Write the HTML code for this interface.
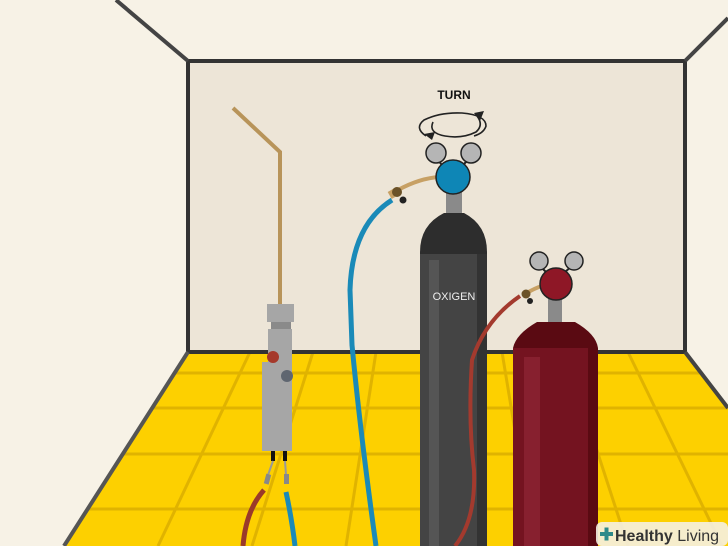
<!DOCTYPE html>
<html><head><meta charset="utf-8"><style>
html,body{margin:0;padding:0;background:#f7f2e6;}
svg{display:block}
</style></head><body>
<svg width="728" height="546" viewBox="0 0 728 546" xmlns="http://www.w3.org/2000/svg">
<defs><clipPath id="fl"><polygon points="188,352 685,352 728,405 728,546 64,546"/></clipPath></defs>
<rect width="728" height="546" fill="#f7f2e6"/>
<!-- floor -->
<polygon points="188,352 685,352 728,405 728,546 64,546" fill="#fdd000"/>
<g stroke="#e0b300" stroke-width="3" clip-path="url(#fl)">
<line x1="0" y1="373" x2="728" y2="373"/>
<line x1="0" y1="408" x2="728" y2="408"/>
<line x1="0" y1="454" x2="728" y2="454"/>
<line x1="0" y1="509" x2="728" y2="509"/>
<line x1="250" y1="352" x2="158" y2="546"/>
<line x1="313" y1="352" x2="252" y2="546"/>
<line x1="376" y1="352" x2="346" y2="546"/>
<line x1="439" y1="352" x2="440" y2="546"/>
<line x1="502" y1="352" x2="534" y2="546"/>
<line x1="565" y1="352" x2="628" y2="546"/>
<line x1="628" y1="352" x2="722" y2="546"/>
</g>
<!-- back wall -->
<rect x="188" y="61" width="497" height="291" fill="#ede5d7" stroke="#333" stroke-width="4"/>
<line x1="116" y1="0" x2="188" y2="61" stroke="#444" stroke-width="4"/>
<line x1="728" y1="18" x2="685" y2="61" stroke="#444" stroke-width="4"/>
<line x1="188" y1="352" x2="64" y2="546" stroke="#555" stroke-width="4"/>
<line x1="685" y1="352" x2="728" y2="408" stroke="#444" stroke-width="4"/>

<!-- torch -->
<polyline points="233,108 280,152 280,306" fill="none" stroke="#b8945a" stroke-width="4"/>
<rect x="267" y="304" width="27" height="18" fill="#a6a6a6"/>
<rect x="271" y="322" width="20" height="7" fill="#8a8a8a"/>
<rect x="268" y="329" width="24" height="33" fill="#a6a6a6"/>
<rect x="262" y="362" width="30" height="89" fill="#a6a6a6"/>
<circle cx="273" cy="357" r="6" fill="#a5392b"/>
<circle cx="287" cy="376" r="6" fill="#5f6670"/>
<rect x="271" y="451" width="4" height="10" fill="#111"/>
<rect x="283" y="451" width="4" height="10" fill="#111"/>
<line x1="273" y1="461" x2="268" y2="475" stroke="#999" stroke-width="2"/>
<line x1="285" y1="461" x2="286" y2="475" stroke="#999" stroke-width="2"/>
<rect x="265" y="474" width="5" height="10" fill="#888" transform="rotate(15 267 479)"/>
<rect x="284" y="474" width="5" height="10" fill="#888"/>
<path d="M264,490 Q246,510 243,546" fill="none" stroke="#9a3a2a" stroke-width="5"/>
<path d="M286,492 Q292,520 295,546" fill="none" stroke="#1a8ab8" stroke-width="5"/>

<!-- blue hose -->
<path d="M392,200 Q352,225 350,290 L352,345 Q360,430 376,546" fill="none" stroke="#1a8ab8" stroke-width="5"/>

<!-- oxygen cylinder -->
<rect x="446" y="192" width="16" height="22" fill="#8a8a8a"/>
<path d="M420,252 Q420,225 444,213 L464,213 Q487,225 487,252 L487,546 L420,546 Z" fill="#2d2d2d"/>
<rect x="420" y="254" width="67" height="292" fill="#444"/>
<rect x="429" y="260" width="10" height="286" fill="#555"/>
<rect x="477" y="254" width="10" height="292" fill="#333"/>
<text x="454" y="300" text-anchor="middle" font-family="Liberation Sans, sans-serif" font-size="11" fill="#eee">OXIGEN</text>

<!-- brass connector to blue regulator -->
<path d="M398,190 Q420,178 440,177" fill="none" stroke="#c7a064" stroke-width="4"/>
<rect x="389" y="189" width="10" height="8" fill="#c7a064" transform="rotate(-30 394 193)"/>
<circle cx="397" cy="192" r="5" fill="#6b5228"/>
<circle cx="403" cy="200" r="3.5" fill="#222"/>
<line x1="442" y1="165" x2="436" y2="158" stroke="#222" stroke-width="2"/>
<line x1="463" y1="165" x2="470" y2="158" stroke="#222" stroke-width="2"/>
<circle cx="436" cy="153" r="10" fill="#b5b5b5" stroke="#222" stroke-width="1.5"/>
<circle cx="471" cy="153" r="10" fill="#b5b5b5" stroke="#222" stroke-width="1.5"/>
<circle cx="453" cy="177" r="17" fill="#0e86b6" stroke="#222" stroke-width="1.5"/>
<!-- turn arrows -->
<text x="454" y="99" text-anchor="middle" font-family="Liberation Sans, sans-serif" font-size="12" font-weight="bold" fill="#111">TURN</text>
<path d="M426,136 Q414,128 424,120 Q440,112 462,113 Q486,115 486,126 Q484,133 474,136" fill="none" stroke="#222" stroke-width="1.6"/>
<path d="M433,122 Q428,133 445,136 Q462,139 476,132 Q484,125 477,116" fill="none" stroke="#222" stroke-width="1.6"/>
<polygon points="432,140 424,134 435,132" fill="#222"/>
<polygon points="474,113 484,111 480,121" fill="#222"/>

<!-- red cylinder -->
<rect x="548" y="298" width="14" height="24" fill="#8a8a8a"/>
<path d="M513,348 Q516,334 537,322 L575,322 Q596,334 598,348 L598,546 L513,546 Z" fill="#5a0a12"/>
<rect x="513" y="348" width="85" height="198" fill="#741320"/>
<rect x="524" y="357" width="16" height="189" fill="#87202f"/>
<rect x="588" y="348" width="10" height="198" fill="#5a0a12"/>
<!-- red hose -->
<path d="M520,296 Q485,320 472,360 Q468,420 474,470 Q476,520 455,546" fill="none" stroke="#a33a2e" stroke-width="4"/>
<path d="M525,294 Q535,288 542,286" fill="none" stroke="#c7a064" stroke-width="4"/>
<circle cx="526" cy="294" r="4.5" fill="#6b5228"/>
<circle cx="530" cy="301" r="3" fill="#222"/>
<line x1="546" y1="272" x2="540" y2="266" stroke="#222" stroke-width="2"/>
<line x1="565" y1="272" x2="572" y2="266" stroke="#222" stroke-width="2"/>
<circle cx="539" cy="261" r="9" fill="#b5b5b5" stroke="#222" stroke-width="1.5"/>
<circle cx="574" cy="261" r="9" fill="#b5b5b5" stroke="#222" stroke-width="1.5"/>
<circle cx="556" cy="284" r="16" fill="#8e1726" stroke="#222" stroke-width="1.5"/>

<!-- logo -->
<rect x="596" y="522" width="132" height="24" rx="6" fill="#f5efe2" opacity="0.9"/>
<rect x="600" y="532" width="13" height="4" fill="#2e8a8a"/>
<rect x="604.5" y="527.5" width="4" height="13" fill="#2e8a8a"/>
<text x="615" y="541" font-family="Liberation Sans, sans-serif" font-size="16" fill="#333"><tspan font-weight="bold">Healthy</tspan> Living</text>
</svg>
</body></html>
